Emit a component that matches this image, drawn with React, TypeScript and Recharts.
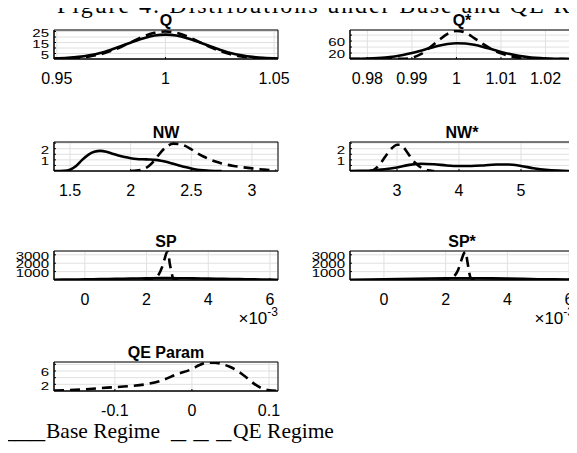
import { LineChart, Line, XAxis, YAxis, CartesianGrid, ReferenceArea } from 'recharts';

// Q
const qX = [0.9487, 0.955, 0.96, 0.965, 0.97, 0.975, 0.98, 0.985, 0.99, 0.995, 1.0, 1.005, 1.01, 1.015, 1.02, 1.025, 1.03, 1.035, 1.04, 1.045, 1.0518];
const qBase = [0.4, 1.0, 1.9, 3.4, 5.5, 8.5, 12.0, 15.7, 19.0, 21.4, 22.2, 21.4, 19.0, 15.7, 12.0, 8.5, 5.5, 3.4, 1.9, 1.0, 0.4];
const qQE = [0.15, 0.5, 1.1, 2.3, 4.3, 7.4, 11.4, 16.1, 20.6, 23.8, 25.0, 23.8, 20.6, 16.1, 11.4, 7.4, 4.3, 2.3, 1.1, 0.5, 0.15];
const qXTicks = [0.95, 1, 1.05];
const qXLabels = ['0.95', '1', '1.05'];
const qYTicks = [5, 10, 15, 20, 25];
const qYLabels = ['5', '', '15', '', '25'];

// Q*
const qsX = [0.9761, 0.98, 0.984, 0.988, 0.99, 0.992, 0.994, 0.996, 0.998, 1.0, 1.002, 1.004, 1.006, 1.008, 1.01, 1.012, 1.016, 1.02, 1.024, 1.0264];
const qsBase = [0.27, 1.3, 4.7, 13.2, 19.9, 27.9, 36.4, 44.3, 50.1, 52.9, 51.9, 47.5, 40.5, 32.2, 23.8, 16.4, 6.3, 1.8, 0.4, 0.15];
const qsQE = [0, 0.05, 0.3, 0.8, 4, 16, 38, 62, 84, 94, 88, 70, 50, 32, 19, 10, 2, 0.3, 0.05, 0];
const qsXTicks = [0.98, 0.99, 1, 1.01, 1.02];
const qsXLabels = ['0.98', '0.99', '1', '1.01', '1.02'];
const qsYTicks = [20, 40, 60, 80];
const qsYLabels = ['20', '', '60', ''];

// NW
const nwBaseX = [1.368, 1.45, 1.5, 1.55, 1.6, 1.65, 1.7, 1.75, 1.8, 1.85, 1.9, 1.95, 2.0, 2.05, 2.1, 2.15, 2.2, 2.25, 2.3, 2.35, 2.4, 2.45, 2.5, 2.55, 2.6, 2.65, 2.75];
const nwBase = [0, 0.02, 0.12, 0.45, 1.0, 1.45, 1.72, 1.8, 1.72, 1.55, 1.38, 1.25, 1.15, 1.08, 1.05, 1.03, 1.0, 0.92, 0.8, 0.65, 0.5, 0.35, 0.22, 0.12, 0.06, 0.02, 0];
const nwQEX = [2.0, 2.05, 2.1, 2.15, 2.2, 2.25, 2.3, 2.35, 2.4, 2.45, 2.5, 2.55, 2.6, 2.65, 2.7, 2.75, 2.8, 2.85, 2.9, 2.95, 3.0, 3.05, 3.1, 3.15, 3.2];
const nwQE = [0, 0.03, 0.15, 0.45, 1.0, 1.7, 2.2, 2.45, 2.42, 2.25, 1.95, 1.6, 1.3, 1.05, 0.85, 0.68, 0.55, 0.45, 0.37, 0.3, 0.24, 0.18, 0.12, 0.08, 0.05];
const nwXTicks = [1.5, 2, 2.5, 3];
const nwXLabels = ['1.5', '2', '2.5', '3'];
const nwYTicks = [0.5, 1, 1.5, 2, 2.5];
const nwYLabels = ['', '1', '', '2', ''];

// NW*
const nwsBaseX = [2.242, 2.4, 2.6, 2.8, 3.0, 3.2, 3.4, 3.6, 3.8, 4.0, 4.2, 4.4, 4.6, 4.8, 5.0, 5.2, 5.4, 5.6, 5.855];
const nwsBase = [0, 0.01, 0.05, 0.15, 0.32, 0.55, 0.65, 0.6, 0.5, 0.45, 0.45, 0.5, 0.58, 0.58, 0.45, 0.25, 0.1, 0.03, 0];
const nwsQEX = [2.55, 2.6, 2.65, 2.7, 2.75, 2.8, 2.85, 2.9, 2.95, 3.0, 3.05, 3.1, 3.15, 3.2, 3.25, 3.3, 3.35, 3.4, 3.45, 3.5, 3.55, 3.6];
const nwsQE = [0, 0.05, 0.2, 0.45, 0.8, 1.2, 1.6, 1.95, 2.2, 2.35, 2.35, 2.15, 1.8, 1.4, 1.0, 0.7, 0.45, 0.28, 0.15, 0.07, 0.03, 0];
const nwsXTicks = [3, 4, 5];
const nwsXLabels = ['3', '4', '5'];

// SP
const spBaseX = [-0.001, -0.0005, 0, 0.0005, 0.001, 0.0015, 0.002, 0.0025, 0.003, 0.0035, 0.004, 0.0045, 0.005, 0.0055, 0.006, 0.00626];
const spBase = [30, 50, 78, 108, 140, 172, 200, 218, 216, 198, 165, 135, 100, 72, 45, 35];
const spQEX = [0.0019, 0.002, 0.0021, 0.0022, 0.0023, 0.0024, 0.0025, 0.0026, 0.00265, 0.0027, 0.00275, 0.0028, 0.00285, 0.0029, 0.003, 0.0031];
const spQE = [0, 15, 50, 130, 300, 700, 1500, 2700, 3250, 3300, 2000, 1100, 300, 80, 10, 0];
const spXTicks = [0, 0.002, 0.004, 0.006];
const spXLabels = ['0', '2', '4', '6'];
const spYTicks = [1000, 2000, 3000];
const spYLabels = ['1000', '2000', '3000'];

// SP*
const spsBaseX = [-0.0011, -0.0005, 0, 0.0005, 0.001, 0.0015, 0.002, 0.0025, 0.003, 0.0035, 0.004, 0.0045, 0.005, 0.0055, 0.006, 0.00616];
const spsBase = [28, 48, 76, 106, 138, 170, 198, 216, 214, 196, 164, 132, 98, 70, 45, 38];
const spsQEX = [0.0018, 0.0019, 0.002, 0.0021, 0.0022, 0.0023, 0.0024, 0.0025, 0.0026, 0.00265, 0.0027, 0.00275, 0.0028, 0.0029, 0.003];
const spsQE = [0, 15, 45, 110, 250, 550, 1150, 2250, 3200, 3350, 2300, 1200, 350, 50, 0];

// QE Param
const qeX = [-0.179, -0.16, -0.14, -0.12, -0.1, -0.08, -0.06, -0.04, -0.02, 0, 0.01, 0.02, 0.03, 0.04, 0.05, 0.06, 0.07, 0.08, 0.09, 0.1, 0.1117];
const qeQE = [0.1, 0.25, 0.5, 0.85, 1.15, 1.5, 2.0, 3.1, 5.0, 6.6, 7.8, 8.5, 8.5, 8.0, 7.2, 5.9, 4.2, 2.3, 0.9, 0.25, 0.05];
const qeXTicks = [-0.1, 0, 0.1];
const qeXLabels = ['-0.1', '0', '0.1'];
const qeYTicks = [2, 4, 6, 8];
const qeYLabels = ['2', '', '6', ''];

const PLOT_W = 224;
const PLOT_H = 29;
const PAD_L = 54;
const PAD_T = 30;
const PAD_B = 40;
const PAD_R = 30;
const SANS = '"Liberation Sans", Arial, sans-serif';
const SERIF = '"Liberation Serif", "Times New Roman", serif';

type Series = { x: number[]; y: number[]; dashed: boolean };

const rows = (xs: number[], ys: number[]) => xs.map((x, i) => ({ x, y: ys[i] }));

function SquashTick(props: any) {
  const { x, y, payload, ticks, labels } = props;
  const i = ticks.indexOf(payload.value);
  const label = i >= 0 ? labels[i] : '';
  return (
    <g transform={`translate(${x},${y + 1.5}) scale(1,0.68)`}>
      <text x={0} y={0} dy="0.36em" textAnchor="end" fontSize={15} fontFamily={SANS} fill="#000">
        {label}
      </text>
    </g>
  );
}

interface PanelProps {
  title: string;
  left: number;
  top: number;
  xDomain: [number, number];
  yDomain: [number, number];
  xTicks: number[];
  xLabels: string[];
  yTicks: number[];
  yLabels: string[];
  series: Series[];
  exponent?: boolean;
}

function Panel({ title, left, top, xDomain, yDomain, xTicks, xLabels, yTicks, yLabels, series, exponent }: PanelProps) {
  return (
    <div style={{ position: 'absolute', left: left - PAD_L, top: top - PAD_T }}>
      <div
        style={{
          position: 'absolute',
          left: PAD_L,
          width: PLOT_W,
          top: PAD_T - 17,
          lineHeight: '16px',
          fontSize: 16,
          fontWeight: 'bold',
          fontFamily: SANS,
          textAlign: 'center',
        }}
      >
        {title}
      </div>
      <LineChart
        width={PAD_L + PLOT_W + PAD_R}
        height={PAD_T + PLOT_H + PAD_B}
        margin={{ top: PAD_T, right: PAD_R, left: 0, bottom: 0 }}
      >
        <CartesianGrid stroke="#e0e0e0" strokeWidth={1} />
        <XAxis
          type="number"
          dataKey="x"
          domain={xDomain}
          ticks={xTicks}
          allowDataOverflow
          interval={0}
          height={PAD_B}
          tickLine={{ stroke: '#000' }}
          tickSize={-2}
          tickMargin={16}
          axisLine={{ stroke: '#000' }}
          tick={{ fontSize: 16, fill: '#000', fontFamily: SANS }}
          tickFormatter={(v: number) => {
            const i = xTicks.indexOf(v);
            return i >= 0 ? xLabels[i] : '';
          }}
        />
        <YAxis
          type="number"
          domain={yDomain}
          ticks={yTicks}
          allowDataOverflow
          interval={0}
          width={PAD_L}
          tickLine={{ stroke: '#000' }}
          tickSize={-2}
          tickMargin={7}
          axisLine={{ stroke: '#000' }}
          tick={<SquashTick ticks={yTicks} labels={yLabels} />}
        />
        <ReferenceArea
          x1={xDomain[0]}
          x2={xDomain[1]}
          y1={yDomain[0]}
          y2={yDomain[1]}
          fill="none"
          stroke="#000"
          strokeWidth={1}
          fillOpacity={0}
          ifOverflow="visible"
        />
        {series.map((s, k) => (
          <Line
            key={k}
            data={rows(s.x, s.y)}
            dataKey="y"
            type="monotone"
            stroke="#000"
            strokeWidth={2.6}
            strokeDasharray={s.dashed ? '10 6' : undefined}
            dot={false}
            activeDot={false}
            isAnimationActive={false}
          />
        ))}
      </LineChart>
      {exponent && (
        <div
          style={{
            position: 'absolute',
            left: PAD_L,
            width: PLOT_W,
            top: PAD_T + PLOT_H + 30,
            textAlign: 'right',
            fontSize: 17,
            fontFamily: SANS,
            lineHeight: '17px',
            whiteSpace: 'nowrap',
          }}
        >
          ×10<span style={{ position: 'relative', top: -8, fontSize: 12 }}>-3</span>
        </div>
      )}
    </div>
  );
}

const LEFT_COL = 54;
const RIGHT_COL = 350;

const legendStyle = {
  position: 'absolute' as const,
  top: 438 - 19,
  whiteSpace: 'nowrap' as const,
  fontFamily: SERIF,
  fontSize: 21.5,
  lineHeight: '24px',
};

const stretched = {
  ...legendStyle,
  transform: 'scaleX(1.4)',
  transformOrigin: 'left top',
};

export default function App() {
  return (
    <div style={{ position: 'relative', width: 577, height: 453, overflow: 'hidden', background: '#fff', margin: -8 }}>
      <div
        style={{
          position: 'absolute',
          left: 57,
          top: -7,
          whiteSpace: 'nowrap',
          fontFamily: SERIF,
          fontSize: 24,
          letterSpacing: 1.9,
          lineHeight: '24px',
        }}
      >
        Figure 4: Distributions under Base and QE Regimes
      </div>
      <Panel
        title="Q"
        left={LEFT_COL}
        top={30}
        xDomain={[0.9487, 1.0518]}
        yDomain={[0, 26.4]}
        xTicks={qXTicks}
        xLabels={qXLabels}
        yTicks={qYTicks}
        yLabels={qYLabels}
        series={[
          { x: qX, y: qBase, dashed: false },
          { x: qX, y: qQE, dashed: true },
        ]}
      />
      <Panel
        title="Q*"
        left={RIGHT_COL}
        top={30}
        xDomain={[0.9761, 1.0264]}
        yDomain={[0, 97]}
        xTicks={qsXTicks}
        xLabels={qsXLabels}
        yTicks={qsYTicks}
        yLabels={qsYLabels}
        series={[
          { x: qsX, y: qsBase, dashed: false },
          { x: qsX, y: qsQE, dashed: true },
        ]}
      />
      <Panel
        title="NW"
        left={LEFT_COL}
        top={142}
        xDomain={[1.368, 3.215]}
        yDomain={[0, 2.6]}
        xTicks={nwXTicks}
        xLabels={nwXLabels}
        yTicks={nwYTicks}
        yLabels={nwYLabels}
        series={[
          { x: nwBaseX, y: nwBase, dashed: false },
          { x: nwQEX, y: nwQE, dashed: true },
        ]}
      />
      <Panel
        title="NW*"
        left={RIGHT_COL}
        top={142}
        xDomain={[2.242, 5.855]}
        yDomain={[0, 2.6]}
        xTicks={nwsXTicks}
        xLabels={nwsXLabels}
        yTicks={nwYTicks}
        yLabels={nwYLabels}
        series={[
          { x: nwsBaseX, y: nwsBase, dashed: false },
          { x: nwsQEX, y: nwsQE, dashed: true },
        ]}
      />
      <Panel
        title="SP"
        left={LEFT_COL}
        top={251}
        xDomain={[-0.001, 0.00626]}
        yDomain={[0, 3450]}
        xTicks={spXTicks}
        xLabels={spXLabels}
        yTicks={spYTicks}
        yLabels={spYLabels}
        series={[
          { x: spBaseX, y: spBase, dashed: false },
          { x: spQEX, y: spQE, dashed: true },
        ]}
        exponent
      />
      <Panel
        title="SP*"
        left={RIGHT_COL}
        top={251}
        xDomain={[-0.0011, 0.00616]}
        yDomain={[0, 3450]}
        xTicks={spXTicks}
        xLabels={spXLabels}
        yTicks={spYTicks}
        yLabels={spYLabels}
        series={[
          { x: spsBaseX, y: spsBase, dashed: false },
          { x: spsQEX, y: spsQE, dashed: true },
        ]}
        exponent
      />
      <Panel
        title="QE Param"
        left={LEFT_COL}
        top={362}
        xDomain={[-0.179, 0.1117]}
        yDomain={[0, 8.7]}
        xTicks={qeXTicks}
        xLabels={qeXLabels}
        yTicks={qeYTicks}
        yLabels={qeYLabels}
        series={[{ x: qeX, y: qeQE, dashed: true }]}
      />
      <span style={{ ...stretched, left: 0 }}>___</span>
      <span style={{ ...legendStyle, left: 46 }}>Base Regime</span>
      <span style={{ ...stretched, left: 171 }}>_ _ _</span>
      <span style={{ ...legendStyle, left: 233 }}>QE Regime</span>
    </div>
  );
}
